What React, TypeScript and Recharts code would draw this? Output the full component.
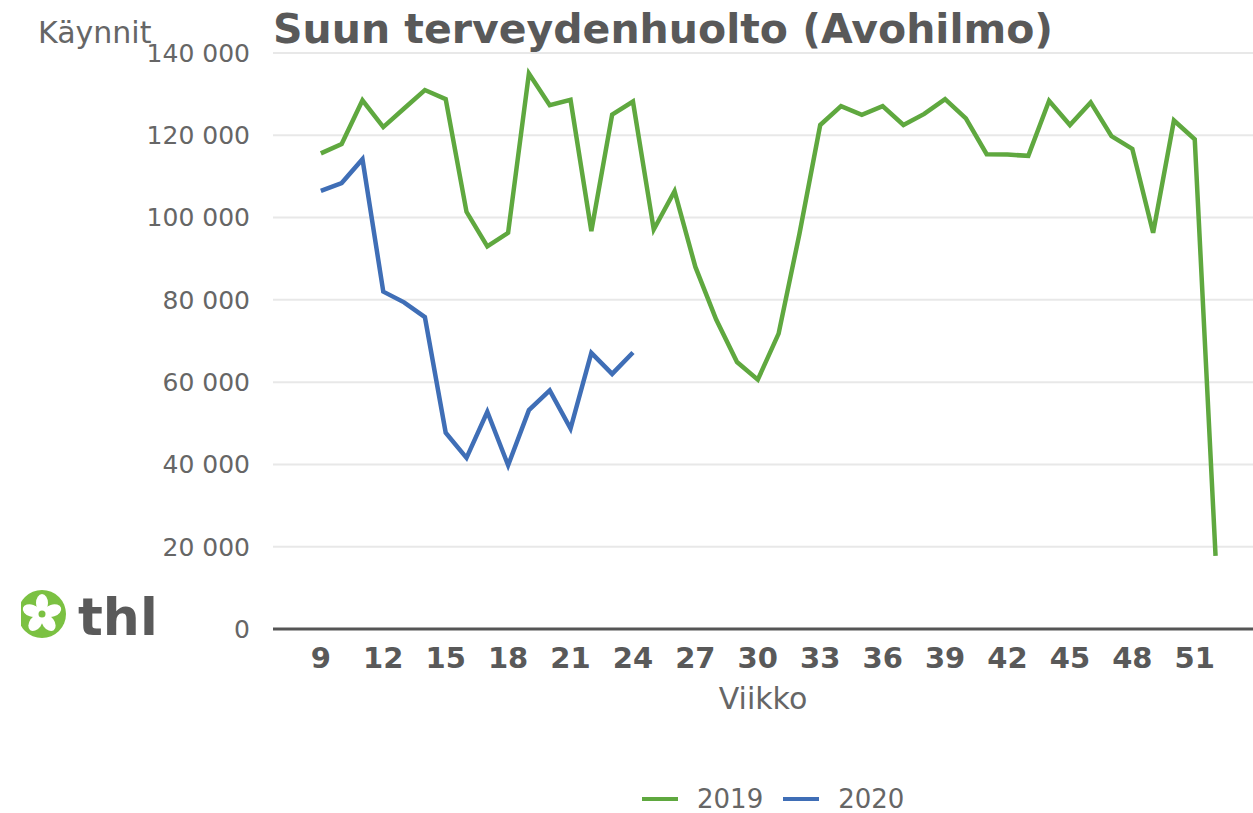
import { CartesianGrid, Line, LineChart, XAxis, YAxis, Legend } from "recharts";

const weeks = [
  9, 10, 11, 12, 13, 14, 15, 16, 17, 18, 19, 20, 21, 22, 23, 24, 25, 26, 27, 28, 29, 30,
  31, 32, 33, 34, 35, 36, 37, 38, 39, 40, 41, 42, 43, 44, 45, 46, 47, 48, 49, 50, 51, 52,
];

const visits2019 = [
  115600, 117900, 128500, 122000, 126500, 131000, 128800, 101400, 93000, 96300, 135000,
  127300, 128600, 96700, 125000, 128200, 97100, 106400, 88000, 75200, 64900, 60600, 71800,
  96000, 122500, 127100, 125000, 127100, 122500, 125200, 128800, 124100, 115400, 115300,
  115000, 128400, 122500, 128000, 119800, 116700, 96300, 123600, 119000, 17800,
];

const visits2020 = [
  106500, 108400, 114200, 82000, 79400, 75800, 47700, 41600, 52800, 39800, 53200, 58000,
  48700, 67100, 62000, 67200,
];

const weekTicks = [9, 12, 15, 18, 21, 24, 27, 30, 33, 36, 39, 42, 45, 48, 51];
const valueTicks = [0, 20000, 40000, 60000, 80000, 100000, 120000, 140000];

const seriesNames = ["2019", "2020"];
const seriesColors = ["#5fa83f", "#3f6eb6"];

const data = weeks.map((w, i) => ({
  week: w,
  "2019": visits2019[i],
  "2020": i < visits2020.length ? visits2020[i] : null,
}));

const formatThousands = (v: number) =>
  v.toString().replace(/\B(?=(\d{3})+(?!\d))/g, " ");

const FONT = "'DejaVu Sans', sans-serif";

const CustomLegend = () => (
  <div style={{ display: "flex", alignItems: "center", fontFamily: FONT, fontSize: 26, color: "#666", height: 30 }}>
    {seriesNames.map((name, i) => (
      <div key={name} style={{ display: "flex", alignItems: "center", marginRight: 20 }}>
        <div style={{ width: 36, height: 4, background: seriesColors[i], marginRight: 19 }} />
        <span>{name}</span>
      </div>
    ))}
  </div>
);

const Logo = () => {
  const cx = 42;
  const cy = 614;
  return (
    <g>
      <defs>
        <clipPath id="logoClip">
          <rect x={21} y={580} width={60} height={70} />
        </clipPath>
      </defs>
      <g clipPath="url(#logoClip)">
        <circle cx={cx} cy={cy} r={24} fill="#7bc142" />
        {[0, 72, 144, 216, 288].map((a) => (
          <ellipse
            key={a}
            cx={cx}
            cy={cy - 11}
            rx={6}
            ry={9}
            fill="#fff"
            transform={`rotate(${a} ${cx} ${cy})`}
          />
        ))}
        <circle cx={cx} cy={cy} r={3.5} fill="#7bc142" />
      </g>
      <text x={78} y={635} fontFamily={FONT} fontWeight="bold" fontSize={52} fill="#5a5a5a">
        thl
      </text>
    </g>
  );
};

export default function App() {
  return (
    <div style={{ position: "absolute", left: 0, top: 0, width: 1253, height: 813, background: "#fff" }}>
      <LineChart
        width={1253}
        height={813}
        data={data}
        margin={{ top: 53, right: 0, left: 153, bottom: 64 }}
      >
        <CartesianGrid vertical={false} stroke="#e8e8e8" strokeWidth={2} />
        <XAxis
          dataKey="week"
          type="number"
          domain={[6.7, 53.8]}
          allowDataOverflow
          ticks={weekTicks}
          interval={0}
          tickLine={false}
          tickSize={0}
          tickMargin={18}
          axisLine={{ stroke: "#555", strokeWidth: 3 }}
          height={90}
          tick={{ fill: "#595959", fontSize: 29, fontWeight: "bold", fontFamily: FONT }}
          label={{ value: "Viikko", position: "insideBottom", offset: 10, fill: "#666", fontSize: 30, fontFamily: FONT }}
        />
        <YAxis
          domain={[0, 140000]}
          ticks={valueTicks}
          width={120}
          axisLine={false}
          tickLine={false}
          tickSize={0}
          tickMargin={23}
          tickFormatter={formatThousands}
          tick={{ fill: "#666", fontSize: 25, fontFamily: FONT }}
        />
        <Legend
          verticalAlign="bottom"
          content={<CustomLegend />}
          wrapperStyle={{ left: 642, top: 784, width: "auto", bottom: "auto" }}
        />
        {seriesNames.map((name, i) => (
          <Line
            key={name}
            type="linear"
            dataKey={name}
            stroke={seriesColors[i]}
            strokeWidth={4.5}
            dot={false}
            activeDot={false}
            isAnimationActive={false}
          />
        ))}
      </LineChart>
      <svg
        width={1253}
        height={813}
        style={{ position: "absolute", left: 0, top: 0, pointerEvents: "none" }}
      >
        <text x={273} y={43} fontFamily={FONT} fontWeight="bold" fontSize={41} fill="#595959">
          Suun terveydenhuolto (Avohilmo)
        </text>
        <text x={38} y={43} fontFamily={FONT} fontSize={30} fill="#666">
          Käynnit
        </text>
        <Logo />
      </svg>
    </div>
  );
}
